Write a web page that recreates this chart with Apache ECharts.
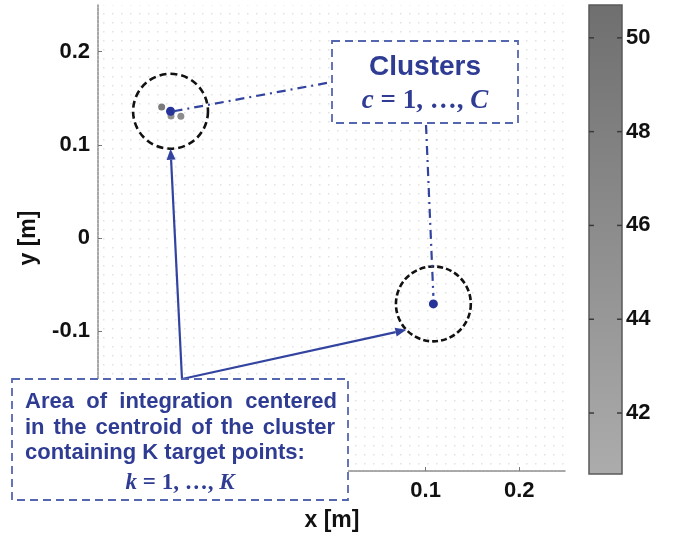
<!DOCTYPE html>
<html><head><meta charset="utf-8">
<script src="https://cdn.jsdelivr.net/npm/echarts@6/dist/echarts.min.js"></script>
<style>html,body{margin:0;padding:0;background:#fff}#c{width:673px;height:537px}</style>
</head><body><div id="c"></div>
<script>
// ---- data ----
const xTicks = [-0.2, -0.1, 0, 0.1, 0.2];
const yTicks = [-0.2, -0.1, 0, 0.1, 0.2];
const colorTicks = [42, 44, 46, 48, 50];
const colorRange = [40.7, 50.7];
const axisRange = [-0.25, 0.25];
// target points: x [m], y [m], value
const targetPoints = [[-0.182, 0.1405, 48.5], [-0.172, 0.131, 45.5], [-0.1615, 0.1305, 46]];
// cluster centroids: x [m], y [m]
const centroids = [[-0.1725, 0.136], [0.1083, -0.0707]];
const integrationRadius = 0.04;
const boxClustersTitle = 'Clusters';
const boxAreaLines = ['Area of integration centered', 'in the centroid of the cluster', 'containing K target points:'];

// ---- chart ----
const chart = echarts.init(document.getElementById('c'), null, {renderer: 'canvas'});
const dot = document.createElement('canvas');
dot.width = 9; dot.height = 9;
const g = dot.getContext('2d');
g.fillStyle = '#e2e2e2';
g.fillRect(4, 4, 1.5, 1.5);

const FONT = 'Liberation Sans';
const tickLabel = {fontSize: 22, fontWeight: 'bold', color: '#111', fontFamily: FONT};
const axisLineStyle = {color: '#8c8c8c', width: 1.5, type: [3, 1]};

const option = {
  animation: false,
  backgroundColor: '#fff',
  grid: [
    {left: 98, top: 5, width: 468, height: 467, show: true, borderWidth: 0,
     backgroundColor: {image: dot, repeat: 'repeat'}},
    {left: 589, top: 5, width: 33, height: 469, show: true, borderColor: '#5a5a5a', borderWidth: 1.5,
     backgroundColor: new echarts.graphic.LinearGradient(0, 0, 0, 1, [
       {offset: 0, color: '#6f6f6f'}, {offset: 1, color: '#acacac'}])}
  ],
  xAxis: [
    {gridIndex: 0, type: 'value', min: axisRange[0], max: axisRange[1],
     name: 'x [m]', nameLocation: 'middle', nameGap: 38,
     nameTextStyle: {fontSize: 23, fontWeight: 'bold', color: '#111', fontFamily: FONT},
     axisLine: {show: true, onZero: false, lineStyle: axisLineStyle},
     axisTick: {show: true, inside: true, length: 4, customValues: xTicks, lineStyle: {color: '#777'}},
     axisLabel: Object.assign({customValues: xTicks, margin: 9, formatter: v => String(v)}, tickLabel),
     splitLine: {show: false}},
    {gridIndex: 1, type: 'value', min: 0, max: 1, show: false}
  ],
  yAxis: [
    {gridIndex: 0, type: 'value', min: axisRange[0], max: axisRange[1],
     name: 'y [m]', nameLocation: 'middle', nameGap: 58, nameRotate: 90,
     nameTextStyle: {fontSize: 23, fontWeight: 'bold', color: '#111', fontFamily: FONT},
     axisLine: {show: true, onZero: false, lineStyle: axisLineStyle},
     axisTick: {show: true, inside: true, length: 4, customValues: yTicks, lineStyle: {color: '#777'}},
     axisLabel: Object.assign({customValues: yTicks, margin: 8, formatter: v => String(v)}, tickLabel),
     splitLine: {show: false}},
    {gridIndex: 1, type: 'value', position: 'right', min: colorRange[0], max: colorRange[1],
     axisLine: {show: false}, axisTick: {show: false},
     axisLabel: Object.assign({customValues: colorTicks, margin: 4}, tickLabel),
     splitLine: {show: false}}
  ],
  visualMap: {type: 'continuous', show: false, min: colorRange[0], max: colorRange[1], dimension: 2,
              seriesIndex: 0, inRange: {color: ['#b2b2b2', '#6b6b6b']}},
  series: [
    {type: 'scatter', xAxisIndex: 0, yAxisIndex: 0, data: targetPoints, symbolSize: 7, z: 3,
     itemStyle: {opacity: 1}},
    {type: 'scatter', xAxisIndex: 0, yAxisIndex: 0, data: centroids, symbolSize: 9, z: 4,
     itemStyle: {color: '#26349a', opacity: 1}}
  ]
};
chart.setOption(option);

// ---- annotations positioned from data coordinates ----
const P = d => chart.convertToPixel({xAxisIndex: 0, yAxisIndex: 0}, d);
const c1 = P(centroids[0]);
const c2 = P(centroids[1]);
const r = P([centroids[0][0] + integrationRadius, centroids[0][1]])[0] - c1[0];
const blue = '#3344a0';
const textBlue = '#2f3c93';
const box1 = {x: 332, y: 41, w: 186, h: 82};
const box2 = {x: 12, y: 379, w: 336, h: 121};
const bar = {x0: 589, x1: 622};
const areaFont = 'bold 22px "Liberation Sans"';

function arrow(from, to, z) {
  const dx = to[0] - from[0], dy = to[1] - from[1];
  const L = Math.hypot(dx, dy), ux = dx / L, uy = dy / L;
  const hl = 11, hw = 4.5;
  const bx = to[0] - ux * hl, by = to[1] - uy * hl;
  return [
    {type: 'line', z: z, shape: {x1: from[0], y1: from[1], x2: bx, y2: by},
     style: {stroke: blue, lineWidth: 2.2}},
    {type: 'polygon', z: z, shape: {points: [to, [bx - uy * hw, by + ux * hw], [bx + uy * hw, by - ux * hw]]},
     style: {fill: blue}}
  ];
}
// justify a line of words between x0 and x1
const mctx = document.createElement('canvas').getContext('2d');
mctx.font = areaFont;
function justified(text, x0, x1, y) {
  const words = text.split(' ');
  const widths = words.map(w => mctx.measureText(w).width);
  const total = widths.reduce((a, b) => a + b, 0);
  const gap = (x1 - x0 - total) / (words.length - 1);
  let x = x0;
  return words.map((w, i) => {
    const el = {type: 'text', z: 101, style: {text: w, x: x, y: y, align: 'left', verticalAlign: 'middle',
      font: areaFont, fill: textBlue}};
    x += widths[i] + gap;
    return el;
  });
}
// colour-bar ticks on both inner edges, placed through the colour axis scale
const barTicks = colorTicks.flatMap(v => {
  const y = chart.convertToPixel({yAxisIndex: 1}, v);
  return [
    {type: 'line', z: 20, shape: {x1: bar.x0, y1: y, x2: bar.x0 + 5, y2: y}, style: {stroke: '#3a3a3a', lineWidth: 1.5}},
    {type: 'line', z: 20, shape: {x1: bar.x1 - 5, y1: y, x2: bar.x1, y2: y}, style: {stroke: '#3a3a3a', lineWidth: 1.5}}
  ];
});
const origin = [182, box2.y];
const lineEnds = [337, 335, null];
const graphics = [
  ...barTicks,
  {type: 'circle', z: 50, shape: {cx: c1[0], cy: c1[1], r: r},
   style: {fill: 'none', stroke: '#111', lineWidth: 2.6, lineDash: [7, 4]}},
  {type: 'circle', z: 50, shape: {cx: c2[0], cy: c2[1], r: r},
   style: {fill: 'none', stroke: '#111', lineWidth: 2.6, lineDash: [6, 3]}},
  {type: 'line', z: 60, shape: {x1: c1[0] + 3, y1: c1[1], x2: box1.x, y2: box1.y + box1.h / 2},
   style: {stroke: blue, lineWidth: 2.2, lineDash: [9, 5, 2, 5]}},
  {type: 'line', z: 60, shape: {x1: 426, y1: box1.y + box1.h + 2, x2: c2[0], y2: c2[1] - 8},
   style: {stroke: blue, lineWidth: 2.2, lineDash: [9, 5, 2, 5]}},
  ...arrow(origin, [c1[0], c1[1] + r], 60),
  ...arrow(origin, [c2[0] - r * 0.72, c2[1] + r * 0.69], 60),
  {type: 'rect', z: 100, shape: {x: box1.x, y: box1.y, width: box1.w, height: box1.h},
   style: {fill: '#fff', stroke: '#5566b0', lineWidth: 1.8, lineDash: [8, 5]}},
  {type: 'text', z: 101, style: {text: boxClustersTitle, x: box1.x + box1.w / 2, y: 67, align: 'center',
    verticalAlign: 'middle', font: 'bold 28px "Liberation Sans"', fill: textBlue}},
  {type: 'text', z: 101, style: {text: '{i|c}{n| = 1, …, }{i|C}', x: box1.x + box1.w / 2, y: 101,
    align: 'center', verticalAlign: 'middle', fill: textBlue,
    rich: {i: {font: 'italic bold 27px "Liberation Serif"', fill: textBlue},
           n: {font: 'bold 27px "Liberation Serif"', fill: textBlue}}}},
  {type: 'rect', z: 100, shape: {x: box2.x, y: box2.y, width: box2.w, height: box2.h},
   style: {fill: '#fff', stroke: '#5566b0', lineWidth: 1.8, lineDash: [8, 5]}},
  ...boxAreaLines.flatMap((t, i) => lineEnds[i] ? justified(t, 25, lineEnds[i], 402 + i * 25.5) :
    [{type: 'text', z: 101, style: {text: t, x: 25, y: 402 + i * 25.5, align: 'left', verticalAlign: 'middle',
      font: areaFont, fill: textBlue}}]),
  {type: 'text', z: 101, style: {text: '{i|k}{n| = 1, …, }{i|K}', x: 180, y: 483,
    align: 'center', verticalAlign: 'middle', fill: textBlue,
    rich: {i: {font: 'italic bold 23px "Liberation Serif"', fill: textBlue},
           n: {font: 'bold 23px "Liberation Serif"', fill: textBlue}}}}
];
chart.setOption({graphic: graphics});
</script></body></html>
